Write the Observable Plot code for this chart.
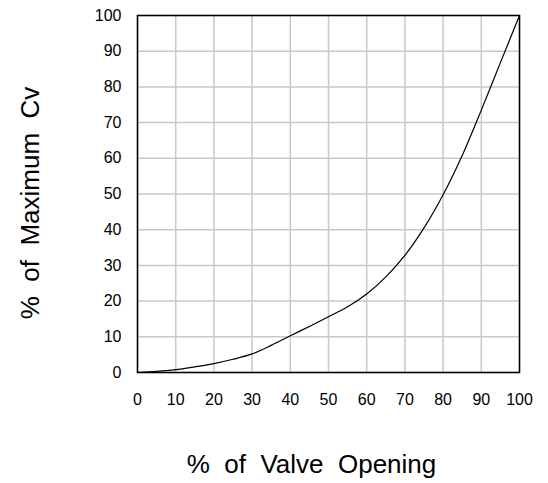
<!DOCTYPE html>
<html>
<head>
<meta charset="utf-8">
<script src="https://cdn.jsdelivr.net/npm/d3@7"></script>
<script src="https://cdn.jsdelivr.net/npm/@observablehq/plot@0.6"></script>
<style>
  html, body { margin: 0; padding: 0; background: #fff; }
  svg text { white-space: pre; }
</style>
</head>
<body>
<div id="chart"></div>
<script>
const opening = [0, 5, 10, 15, 20, 25, 30, 35, 40, 45, 50, 55, 60, 65, 70, 75, 80, 85, 90, 95, 100];
const cv      = [0, 0.3, 0.8, 1.6, 2.5, 3.7, 5.2, 7.6, 10.3, 12.9, 15.6, 18.4, 22, 26.8, 32.8, 40.5, 49.8, 60.8, 73.5, 86.8, 100];
const xTicks = [0, 10, 20, 30, 40, 50, 60, 70, 80, 90, 100];
const yTicks = [0, 10, 20, 30, 40, 50, 60, 70, 80, 90, 100];
const xTitle = "%  of  Valve  Opening";
const yTitle = "%  of  Maximum  Cv";

const data = opening.map((x, i) => ({x, y: cv[i]}));

const chart = Plot.plot({
  width: 548,
  height: 483,
  marginLeft: 137,
  marginRight: 29,
  marginTop: 15,
  marginBottom: 111,
  style: {fontFamily: "'Liberation Sans', Arial, sans-serif", background: "#fff", color: "#000"},
  x: {domain: [0, 100]},
  y: {domain: [0, 100]},
  marks: [
    Plot.gridX(xTicks, {stroke: "#c8c8c8", strokeOpacity: 1, strokeWidth: 1.5}),
    Plot.gridY(yTicks, {stroke: "#c8c8c8", strokeOpacity: 1, strokeWidth: 1.5}),
    Plot.axisX(xTicks, {tickSize: 0, tickPadding: 21, fontSize: 16, label: null}),
    Plot.axisY(yTicks, {tickSize: 0, tickPadding: 16, fontSize: 16, label: null}),
    Plot.frame({stroke: "#000", strokeWidth: 1.5}),
    Plot.line(data, {x: "x", y: "y", curve: "catmull-rom", stroke: "#000", strokeWidth: 1.2}),
    Plot.text([xTitle], {frameAnchor: "bottom", text: d => d, fontSize: 26, textAnchor: "middle", dx: -17, dy: 100}),
    Plot.text([yTitle], {frameAnchor: "left", text: d => d, fontSize: 26, textAnchor: "middle", rotate: -90, dx: -107, dy: 9})
  ]
});
document.getElementById("chart").appendChild(chart);
</script>
</body>
</html>
